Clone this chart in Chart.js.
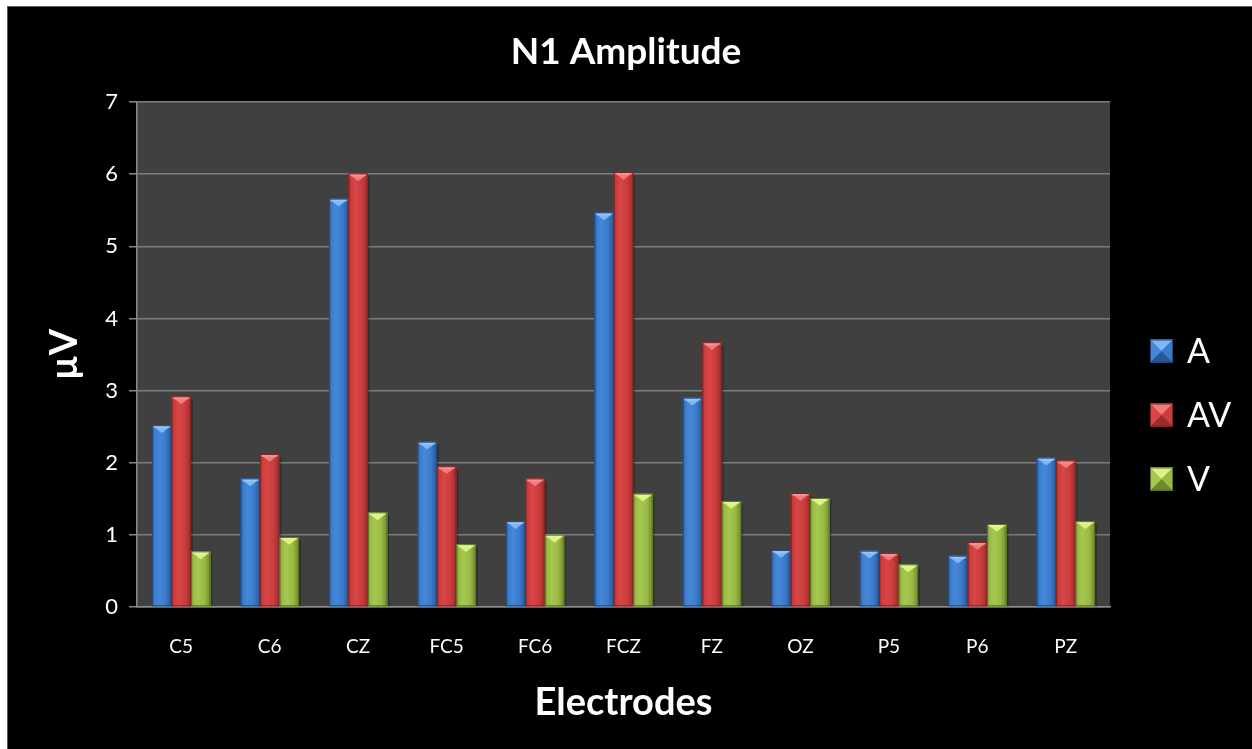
<!DOCTYPE html>
<html>
<head>
<meta charset="utf-8">
<title>N1 Amplitude</title>
<script src="https://cdn.jsdelivr.net/npm/chart.js@4/dist/chart.umd.min.js"></script>
<style>
  html, body { margin: 0; padding: 0; background: #ffffff; width: 1252px; height: 749px; overflow: hidden; }
  #frame {
    position: absolute; left: 7px; top: 6px; width: 1244px; height: 742px;
    background: #000000; border-left: 1px solid #5c5c5c; border-top: 1px solid #5c5c5c;
  }
  canvas { display: block; }
</style>
</head>
<body>
<div id="frame"><canvas id="chart" width="1244" height="742"></canvas></div>
<script>
// Electrode sites along the x axis
const categories = ['C5', 'C6', 'CZ', 'FC5', 'FC6', 'FCZ', 'FZ', 'OZ', 'P5', 'P6', 'PZ'];
// N1 amplitude (µV) per condition
const seriesA  = [2.52, 1.78, 5.66, 2.29, 1.19, 5.47, 2.90, 0.79, 0.78, 0.71, 2.07];
const seriesAV = [2.92, 2.12, 6.01, 1.95, 1.78, 6.03, 3.67, 1.58, 0.75, 0.90, 2.03];
const seriesV  = [0.77, 0.97, 1.31, 0.87, 1.00, 1.57, 1.47, 1.51, 0.59, 1.15, 1.19];
const seriesNames = ['A', 'AV', 'V'];
// y axis range and tick step
const yMin = 0, yMax = 7, yStep = 1;

// bevel palettes for each condition
const palettes = {
  A:  { dark: '#2a5797', body: '#3b7bcb', light: '#4688d8', top: '#80b6f4', border: '#23497f' },
  AV: { dark: '#9a2c2c', body: '#cc3c3c', light: '#d84646', top: '#f07c7c', border: '#7f2424' },
  V:  { dark: '#6f8a2c', body: '#99bb45', light: '#a6c84f', top: '#dcf282', border: '#5c7424' }
};

const FONT = 'Lato, "Open Sans", "DejaVu Sans", sans-serif';

// dark plot background behind the bars
const plotBackground = {
  id: 'plotBackground',
  beforeDraw(chart) {
    const { ctx, chartArea: a } = chart;
    ctx.save();
    ctx.fillStyle = '#404040';
    ctx.fillRect(a.left, a.top, a.right - a.left, a.bottom - a.top);
    ctx.restore();
  }
};

function bevelFill(ctx, left, top, w, h, p) {
  const g = ctx.createLinearGradient(left, 0, left + w, 0);
  g.addColorStop(0, p.dark);
  g.addColorStop(0.12, p.body);
  g.addColorStop(0.35, p.light);
  g.addColorStop(0.7, p.body);
  g.addColorStop(1, p.dark);
  ctx.fillStyle = g;
  ctx.fillRect(left, top, w, h);
  ctx.strokeStyle = p.border;
  ctx.lineWidth = 1;
  ctx.strokeRect(left + 0.5, top + 0.5, w - 1, h - 1);
  // top bevel: light chevron
  const th = Math.min(w * 0.4, h);
  ctx.fillStyle = p.top;
  ctx.beginPath();
  ctx.moveTo(left + 1, top + 1);
  ctx.lineTo(left + w - 1, top + 1);
  ctx.lineTo(left + w / 2, top + th);
  ctx.closePath();
  ctx.fill();
  ctx.fillStyle = 'rgba(255,255,255,0.18)';
  ctx.fillRect(left + 1, top + 1, w - 2, 2);
}

// shaded bars drawn over each bar element's own geometry
const bevelBars = {
  id: 'bevelBars',
  afterDatasetsDraw(chart) {
    const { ctx, chartArea: a } = chart;
    ctx.save();
    ctx.beginPath();
    ctx.rect(a.left, a.top, a.right - a.left, a.bottom - a.top);
    ctx.clip();
    chart.data.datasets.forEach((ds, i) => {
      const meta = chart.getDatasetMeta(i);
      const p = palettes[ds.label];
      meta.data.forEach(bar => {
        const { x, y, base, width } = bar.getProps(['x', 'y', 'base', 'width'], true);
        const left = x - width / 2;
        const top = Math.min(y, base);
        const h = Math.abs(base - y);
        // soft shadow on the right side
        ctx.fillStyle = 'rgba(0,0,0,0.25)';
        ctx.fillRect(left + width, top + 3, 2, h - 3);
        bevelFill(ctx, left, top, width, h, p);
      });
    });
    ctx.restore();
  }
};

// legend on the right with bevelled swatches
const sideLegend = {
  id: 'sideLegend',
  afterDraw(chart, args, opts) {
    const { ctx } = chart;
    ctx.save();
    chart.data.datasets.forEach((ds, i) => {
      const p = palettes[ds.label];
      const cy = opts.top + i * opts.spacing;
      const s = opts.box;
      const bx = opts.left, by = cy - s / 2;
      ctx.fillStyle = p.body;
      ctx.fillRect(bx, by, s, s);
      // pyramid shading
      ctx.fillStyle = p.top;
      ctx.beginPath(); ctx.moveTo(bx, by); ctx.lineTo(bx + s, by); ctx.lineTo(bx + s / 2, by + s / 2); ctx.closePath(); ctx.fill();
      ctx.fillStyle = p.dark;
      ctx.beginPath(); ctx.moveTo(bx, by + s); ctx.lineTo(bx + s, by + s); ctx.lineTo(bx + s / 2, by + s / 2); ctx.closePath(); ctx.fill();
      ctx.fillStyle = p.light;
      ctx.beginPath(); ctx.moveTo(bx, by); ctx.lineTo(bx, by + s); ctx.lineTo(bx + s / 2, by + s / 2); ctx.closePath(); ctx.fill();
      ctx.fillStyle = p.body;
      ctx.beginPath(); ctx.moveTo(bx + s, by); ctx.lineTo(bx + s, by + s); ctx.lineTo(bx + s / 2, by + s / 2); ctx.closePath(); ctx.fill();
      ctx.strokeStyle = p.border;
      ctx.lineWidth = 1;
      ctx.strokeRect(bx + 0.5, by + 0.5, s - 1, s - 1);
      ctx.fillStyle = '#ffffff';
      ctx.font = opts.font;
      ctx.textBaseline = 'middle';
      ctx.textAlign = 'left';
      ctx.fillText(ds.label, opts.left + s + opts.gap, cy + 1);
    });
    ctx.restore();
  }
};

const datasets = [seriesA, seriesAV, seriesV].map((values, i) => ({
  label: seriesNames[i],
  data: values,
  backgroundColor: palettes[seriesNames[i]].body,
  borderWidth: 0,
  categoryPercentage: 0.66,
  barPercentage: 1.0,
  yAxisID: 'y'
}));

new Chart(document.getElementById('chart'), {
  type: 'bar',
  data: { labels: categories, datasets },
  plugins: [plotBackground, bevelBars, sideLegend],
  options: {
    responsive: false,
    animation: false,
    devicePixelRatio: 1,
    layout: { padding: { left: 0, top: 0, bottom: 0, right: 8 } },
    plugins: {
      legend: { display: false },
      tooltip: { enabled: false },
      title: {
        display: true,
        text: 'N1 Amplitude',
        color: '#ffffff',
        font: { family: FONT, size: 37, weight: 'bold', lineHeight: 1.2 },
        padding: { top: 23, bottom: 27.6 }
      },
      sideLegend: {
        left: 1142, top: 344, spacing: 64, box: 23, gap: 14,
        font: '34px ' + FONT
      }
    },
    scales: {
      x: {
        grid: { display: false, drawTicks: false },
        border: { display: true, color: '#8a8a8a', width: 1.5 },
        ticks: { color: '#ffffff', font: { family: FONT, size: 19 }, padding: 28 },
        title: {
          display: true, text: 'Electrodes', color: '#ffffff',
          font: { family: FONT, size: 38, weight: 'bold', lineHeight: 1.2 },
          padding: { top: 0, bottom: 23 }
        },
        afterFit(axis) { axis.height = 142; }
      },
      y: {
        min: yMin, max: yMax,
        grid: { color: '#7c7c7c', lineWidth: 1.5, drawTicks: true, tickLength: 8, tickColor: '#8a8a8a' },
        border: { display: true, color: '#8a8a8a', width: 1.5 },
        ticks: { stepSize: yStep, color: '#ffffff', font: { family: FONT, size: 22 }, padding: 11 },
        title: {
          display: true, text: 'µV', color: '#ffffff',
          font: { family: FONT, size: 38, weight: 'bold', lineHeight: 1.2 },
          padding: { top: 34, bottom: 0 }
        },
        afterFit(axis) { axis.width = 129; }
      },
      // empty band on the right that holds the legend
      legendBand: {
        type: 'linear',
        position: 'right',
        min: yMin, max: yMax,
        grid: { display: false, drawTicks: false },
        border: { display: false },
        ticks: { display: false },
        afterFit(axis) { axis.width = 134; }
      }
    }
  }
});
</script>
</body>
</html>
